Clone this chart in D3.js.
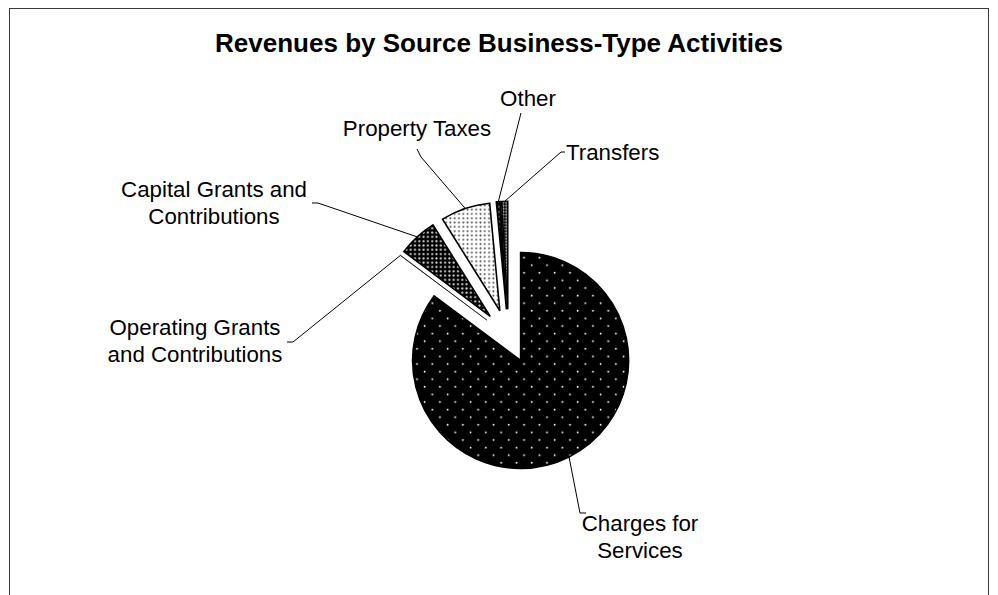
<!DOCTYPE html>
<html>
<head>
<meta charset="utf-8">
<script src="https://cdn.jsdelivr.net/npm/d3@7"></script>
<style>
  html, body { margin: 0; padding: 0; background: #fff; }
  svg { display: block; }
  text { font-family: "Liberation Sans", Arial, Helvetica, sans-serif; fill: #000; }
</style>
</head>
<body>
<svg id="chart" width="998" height="595"></svg>
<script>
// Revenue sources, business-type activities (share of total, %)
const categories = [
  "Charges for Services",
  "Operating Grants and Contributions",
  "Capital Grants and Contributions",
  "Property Taxes",
  "Other",
  "Transfers"
];
const shares = [85.2, 0.05, 5.85, 7.4, 0.6, 0.9];
const labelLines = [
  ["Charges for", "Services"],
  ["Operating Grants", "and Contributions"],
  ["Capital Grants and", "Contributions"],
  ["Property Taxes"],
  ["Other"],
  ["Transfers"]
];
const fills = ["pCharges", "pOperating", "pCapital", "pProperty", "pOther", "pTransfers"];
const title = "Revenues by Source Business-Type Activities";

const W = 998, H = 595;
const svg = d3.select("#chart");

// outer frame
svg.append("rect")
  .attr("x", 9.5).attr("y", 8.5)
  .attr("width", 979).attr("height", 620)
  .attr("fill", "none").attr("stroke", "#3a3a3a").attr("stroke-width", 1);

svg.append("text")
  .attr("x", 499).attr("y", 52)
  .attr("text-anchor", "middle")
  .attr("font-size", 26).attr("font-weight", "bold")
  .text(title);

// fill patterns
const defs = svg.append("defs");
function dotPattern(id, size, bg, dot, dots, r) {
  const p = defs.append("pattern")
    .attr("id", id).attr("patternUnits", "userSpaceOnUse")
    .attr("width", size[0]).attr("height", size[1]);
  p.append("rect").attr("width", size[0]).attr("height", size[1]).attr("fill", bg);
  dots.forEach(([x, y]) => {
    p.append("circle").attr("cx", x).attr("cy", y).attr("r", r).attr("fill", dot);
  });
}
dotPattern("pCharges", [15.3, 15.2], "#000", "#fff", [[3.5, 3.5], [11.15, 11.1]], 0.95);
dotPattern("pOperating", [4.3, 4.3], "#000", "#ddd", [[2.15, 2.15]], 1.0);
dotPattern("pCapital", [4.3, 4.3], "#000", "#e0e0e0", [[2.15, 2.15]], 1.05);
dotPattern("pProperty", [4.3, 4.3], "#fff", "#555", [[2.15, 2.15]], 1.0);
dotPattern("pOther", [5, 5], "#000", "#9a9a9a", [[2.5, 2.5]], 0.9);
dotPattern("pTransfers", [3, 3], "#000", "#eee", [[1.5, 1.5]], 0.95);

// exploded pie
const cx = 508.5, cy = 336.3, R = 108, explode = 27;
const pie = d3.pie().sort(null).value(d => d)(shares);
const arc = d3.arc().innerRadius(0).outerRadius(R);
const dir = a => [Math.sin(a), -Math.cos(a)];

const g = svg.append("g").attr("transform", `translate(${cx},${cy})`);
g.selectAll("path.slice")
  .data(pie)
  .join("path")
  .attr("class", "slice")
  .attr("transform", d => {
    const [ux, uy] = dir((d.startAngle + d.endAngle) / 2);
    return `translate(${ux * explode},${uy * explode})`;
  })
  .attr("d", arc)
  .attr("fill", (d, i) => `url(#${fills[i]})`)
  .attr("stroke", "#000")
  .attr("stroke-width", (d, i) => i === 1 ? 0.6 : 1.6)
  .attr("stroke-linejoin", "miter");

// label placement: text anchor, first baseline, leader bends (page coords)
const labelLayout = [
  { x: 640, y: 531, anchor: "middle", bends: [[580, 513], [586, 513]] },
  { x: 195, y: 335, anchor: "middle", bends: [[293, 342], [287, 342]] },
  { x: 214, y: 197, anchor: "middle", bends: [[318, 203], [312, 203]] },
  { x: 417, y: 136, anchor: "middle", bends: [[421, 157], [417, 149]] },
  { x: 528, y: 106, anchor: "middle", bends: [[521, 113]] },
  { x: 566, y: 160, anchor: "start", bends: [[561, 152], [565, 152]] }
];
const lineGap = 27;

const line = d3.line();
pie.forEach((d, i) => {
  const [ux, uy] = dir((d.startAngle + d.endAngle) / 2);
  const start = [cx + ux * (R + explode), cy + uy * (R + explode)];
  const L = labelLayout[i];
  svg.append("path")
    .attr("d", line([start, ...L.bends]))
    .attr("fill", "none")
    .attr("stroke", "#000")
    .attr("stroke-width", 1);
  const t = svg.append("text")
    .attr("text-anchor", L.anchor)
    .attr("font-size", 22.3);
  labelLines[i].forEach((s, k) => {
    t.append("tspan").attr("x", L.x).attr("y", L.y + k * lineGap).text(s);
  });
});
</script>
</body>
</html>
